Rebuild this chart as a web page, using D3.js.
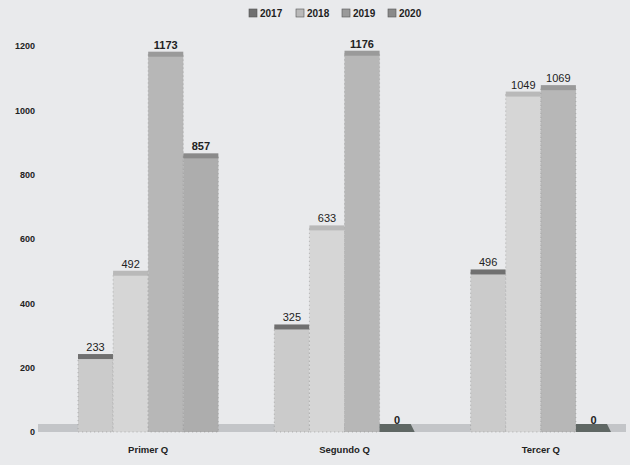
<!DOCTYPE html>
<html><head><meta charset="utf-8">
<script src="https://cdn.jsdelivr.net/npm/d3@7/dist/d3.min.js"></script>
<style>
html,body{margin:0;padding:0;background:#e9eaec;}
svg{display:block;}
</style></head>
<body>
<svg id="c" width="630" height="465"></svg>
<script>
const categories = ["Primer Q", "Segundo Q", "Tercer Q"];
const seriesNames = ["2017", "2018", "2019", "2020"];
const values2017 = [233, 325, 496];
const values2018 = [492, 633, 1049];
const values2019 = [1173, 1176, 1069];
const values2020 = [857, 0, 0];
const yTicks = [0, 200, 400, 600, 800, 1000, 1200];

const seriesValues = [values2017, values2018, values2019, values2020];
const fills = ["#cbcbcb", "#d6d6d6", "#b7b7b7", "#adadad"];
const caps  = ["#707070", "#b9b9b9", "#9a9a9a", "#8a8a8a"];

const svg = d3.select("#c");
const W = 630, H = 465;
svg.append("rect").attr("width", W).attr("height", H).attr("fill", "#e9eaec");

const y = d3.scaleLinear().domain([0, 1200]).range([432, 46]);
const x0 = d3.scaleBand().domain(categories).range([78, 611]).paddingInner(0.285).paddingOuter(0);
const x1 = d3.scaleBand().domain(seriesNames).range([0, x0.bandwidth()]).padding(0);

// floor band
svg.append("rect").attr("x", 38).attr("y", y(0) - 8).attr("width", 588).attr("height", 8)
  .attr("fill", "#c3c5c8");

// y axis labels
const yAxis = d3.axisLeft(y).tickValues(yTicks).tickFormat(d3.format("d")).tickSize(0).tickPadding(0);
const gy = svg.append("g").attr("transform", "translate(35,0)").call(yAxis);
gy.select(".domain").remove();
gy.selectAll("text").attr("font-family", "Liberation Sans, Arial, sans-serif")
  .attr("font-size", 9).attr("font-weight", "bold").attr("fill", "#222");

// bars
const groups = svg.selectAll("g.grp").data(categories).enter().append("g")
  .attr("class", "grp").attr("transform", d => `translate(${x0(d)},0)`);

groups.each(function(cat, ci) {
  const g = d3.select(this);
  seriesNames.forEach((s, si) => {
    const v = seriesValues[si][ci];
    const bx = x1(s), bw = x1.bandwidth();
    if (v > 0) {
      g.append("rect").attr("x", bx).attr("y", y(v)).attr("width", bw)
        .attr("height", y(0) - y(v)).attr("fill", fills[si])
        .attr("stroke", "#8d8d8d").attr("stroke-width", 0.6).attr("stroke-dasharray", "1,3");
      g.append("rect").attr("x", bx).attr("y", y(v) - 3).attr("width", bw).attr("height", 5)
        .attr("fill", caps[si]);
    } else {
      g.append("path")
        .attr("d", `M${bx},${y(0)} L${bx},${y(0) - 8} L${bx + bw - 4},${y(0) - 8} L${bx + bw},${y(0)} Z`)
        .attr("fill", "#5f6764");
    }
    g.append("text").attr("x", bx + bw / 2).attr("y", (v > 0 ? y(v) - 6 : y(0) - 8))
      .attr("text-anchor", "middle")
      .attr("font-family", "Liberation Sans, Arial, sans-serif")
      .attr("font-size", 11)
      .attr("font-weight", (si >= 2 && ci < 2) || v === 0 ? "bold" : "normal")
      .attr("fill", "#222").text(v);
  });
});

// category labels
svg.selectAll("text.cat").data(categories).enter().append("text")
  .attr("class", "cat")
  .attr("x", d => x0(d) + x0.bandwidth() / 2).attr("y", 453)
  .attr("text-anchor", "middle")
  .attr("font-family", "Liberation Sans, Arial, sans-serif")
  .attr("font-size", 9.5).attr("font-weight", "bold").attr("fill", "#222")
  .text(d => d);

// legend
const legX = [249, 296, 342, 388];
const leg = svg.selectAll("g.leg").data(seriesNames).enter().append("g")
  .attr("class", "leg").attr("transform", (d, i) => `translate(${legX[i]},9)`);
leg.append("rect").attr("width", 8).attr("height", 8).attr("fill", (d, i) => caps[i])
  .attr("stroke", "#555").attr("stroke-width", 0.6);
leg.append("text").attr("x", 11).attr("y", 8)
  .attr("font-family", "Liberation Sans, Arial, sans-serif")
  .attr("font-size", 10).attr("font-weight", "bold").attr("fill", "#222")
  .text(d => d);
</script>
</body></html>
